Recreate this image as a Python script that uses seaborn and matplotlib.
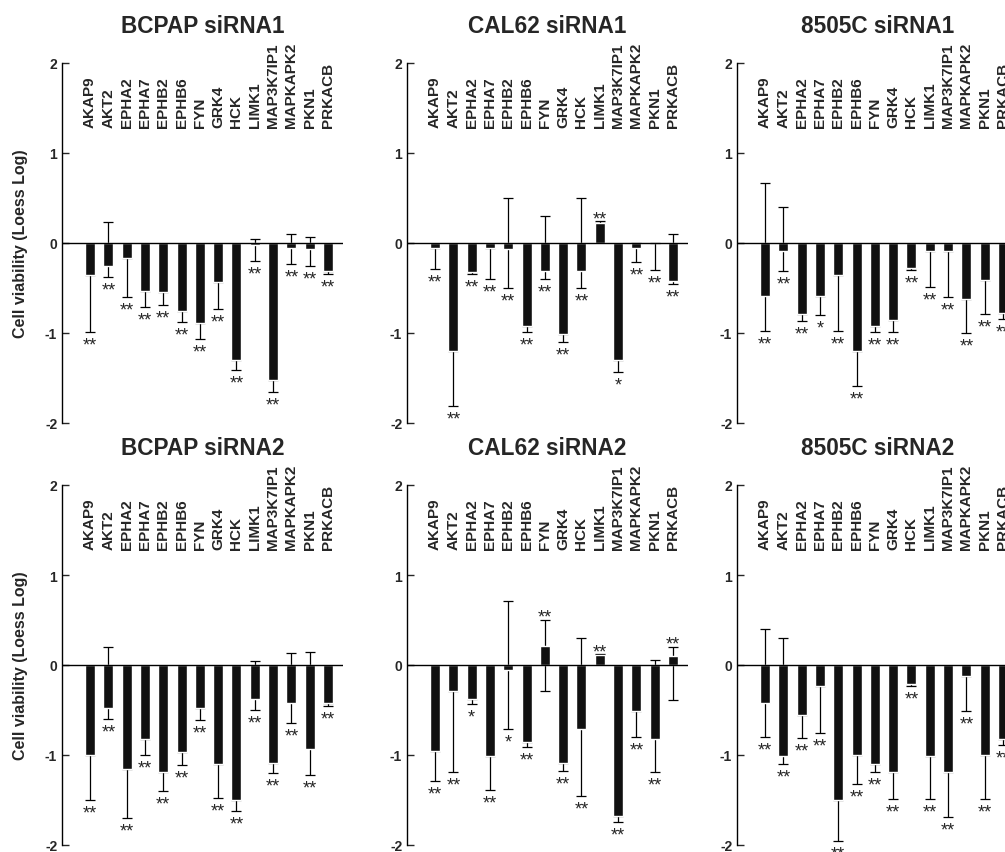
import numpy as np
import matplotlib
matplotlib.use("Agg")
import matplotlib.pyplot as plt
import seaborn as sns

genes = ["AKAP9", "AKT2", "EPHA2", "EPHA7", "EPHB2", "EPHB6", "FYN", "GRK4",
         "HCK", "LIMK1", "MAP3K7IP1", "MAPKAPK2", "PKN1", "PRKACB"]

# bar value, lower / upper whisker end, significance mark
bcpap1_val = [-0.36, -0.25, -0.17, -0.53, -0.54, -0.75, -0.89, -0.43, -1.30, -0.02, -1.52, -0.05, -0.07, -0.31]
bcpap1_lo = [-0.99, -0.38, -0.60, -0.71, -0.69, -0.88, -1.07, -0.73, -1.41, -0.20, -1.65, -0.23, -0.26, -0.34]
bcpap1_hi = [-0.36, 0.23, -0.17, -0.53, -0.54, -0.75, -0.89, -0.43, -1.30, 0.04, -1.52, 0.10, 0.07, -0.31]
bcpap1_sig = ["**"] * 14

cal1_val = [-0.06, -1.20, -0.32, -0.06, -0.07, -0.92, -0.31, -1.01, -0.31, 0.22, -1.30, -0.06, 0.0, -0.42]
cal1_lo = [-0.29, -1.81, -0.34, -0.40, -0.50, -0.99, -0.40, -1.10, -0.50, 0.22, -1.43, -0.21, -0.30, -0.45]
cal1_hi = [-0.06, -1.20, -0.32, -0.06, 0.50, -0.92, 0.30, -1.01, 0.50, 0.24, -1.30, 0.0, 0.0, 0.10]
cal1_sig = ["**", "**", "**", "**", "**", "**", "**", "**", "**", "**", "*", "**", "**", "**"]

c8505_1_val = [-0.59, -0.09, -0.79, -0.59, -0.36, -1.20, -0.92, -0.86, -0.28, -0.09, -0.09, -0.62, -0.41, -0.78]
c8505_1_lo = [-0.98, -0.31, -0.87, -0.80, -0.98, -1.59, -0.99, -0.99, -0.30, -0.49, -0.60, -1.00, -0.79, -0.84]
c8505_1_hi = [0.67, 0.40, -0.79, -0.59, -0.36, -1.20, -0.92, -0.86, -0.28, -0.09, -0.09, -0.62, -0.41, -0.78]
c8505_1_sig = ["**", "**", "**", "*", "**", "**", "**", "**", "**", "**", "**", "**", "**", "**"]

bcpap2_val = [-1.00, -0.48, -1.15, -0.82, -1.19, -0.97, -0.48, -1.10, -1.50, -0.38, -1.09, -0.42, -0.93, -0.42]
bcpap2_lo = [-1.50, -0.60, -1.70, -1.00, -1.40, -1.11, -0.61, -1.48, -1.62, -0.50, -1.20, -0.64, -1.22, -0.46]
bcpap2_hi = [-1.00, 0.20, -1.15, -0.82, -1.19, -0.97, -0.48, -1.10, -1.50, 0.04, -1.09, 0.13, 0.15, -0.42]
bcpap2_sig = ["**"] * 14

cal2_val = [-0.95, -0.29, -0.38, -1.01, -0.05, -0.85, 0.21, -1.09, -0.71, 0.11, -1.68, -0.51, -0.82, 0.10]
cal2_lo = [-1.29, -1.19, -0.43, -1.39, -0.71, -0.91, -0.29, -1.18, -1.45, 0.11, -1.74, -0.80, -1.19, -0.39]
cal2_hi = [-0.95, -0.29, -0.38, -1.01, 0.71, -0.85, 0.50, -1.09, 0.30, 0.12, -1.68, -0.51, 0.06, 0.20]
cal2_sig = ["**", "**", "*", "**", "*", "**", "**", "**", "**", "**", "**", "**", "**", "**"]

c8505_2_val = [-0.42, -1.01, -0.56, -0.23, -1.50, -1.00, -1.10, -1.19, -0.21, -1.01, -1.19, -0.12, -1.00, -0.82]
c8505_2_lo = [-0.80, -1.10, -0.81, -0.76, -1.95, -1.32, -1.19, -1.49, -0.23, -1.49, -1.69, -0.51, -1.49, -0.89]
c8505_2_hi = [0.40, 0.30, -0.56, -0.23, -1.50, -1.00, -1.10, -1.19, -0.21, -1.01, -1.19, -0.12, -1.00, -0.82]
c8505_2_sig = ["**"] * 14

panels = [
    ("BCPAP siRNA1", bcpap1_val, bcpap1_lo, bcpap1_hi, bcpap1_sig),
    ("CAL62 siRNA1", cal1_val, cal1_lo, cal1_hi, cal1_sig),
    ("8505C siRNA1", c8505_1_val, c8505_1_lo, c8505_1_hi, c8505_1_sig),
    ("BCPAP siRNA2", bcpap2_val, bcpap2_lo, bcpap2_hi, bcpap2_sig),
    ("CAL62 siRNA2", cal2_val, cal2_lo, cal2_hi, cal2_sig),
    ("8505C siRNA2", c8505_2_val, c8505_2_lo, c8505_2_hi, c8505_2_sig),
]

sns.set_style("ticks")
plt.rcParams["font.family"] = ["Liberation Sans", "DejaVu Sans"]
plt.rcParams["font.weight"] = "bold"
plt.rcParams["axes.unicode_minus"] = False

W, H = 1005, 853
fig = plt.figure(figsize=(W / 100, H / 100), dpi=100)

lefts = [62, 407, 737]
bottoms = [424, 846]
ax_w, ax_h = 281, 360

x = np.arange(len(genes))
for k, (title, val, lo, hi, sig) in enumerate(panels):
    row, col = divmod(k, 3)
    ax = fig.add_axes([lefts[col] / W, (H - bottoms[row]) / H, ax_w / W, ax_h / H])

    val = np.array(val)
    lo = np.array(lo)
    hi = np.array(hi)

    ax.errorbar(x, val, yerr=[val - lo, hi - val], fmt="none", ecolor="black",
                elinewidth=0.9, capsize=3.6, capthick=0.9, zorder=1)
    sns.barplot(x=genes, y=val, color="#111111", saturation=1, width=0.55,
                errorbar=None, ax=ax, zorder=2)
    ax.axhline(0, color="black", lw=1.0, zorder=3)

    for i in range(len(genes)):
        ax.text(i, 1.29, genes[i], rotation=90, ha="center", va="bottom",
                fontsize=11, fontweight="bold", clip_on=False)
        if val[i] > 0:
            ax.text(i, max(hi[i], val[i]) - 0.02, sig[i], ha="center", va="baseline",
                    fontsize=13, fontweight="normal")
        else:
            ax.text(i, min(lo[i], val[i]) - 0.05, sig[i], ha="center", va="top",
                    fontsize=13, fontweight="normal")

    ax.set_xlim(-1.53, 13.82)
    ax.set_ylim(-2, 2)
    ax.set_xticks([])
    ax.set_xlabel("")
    ax.set_yticks([-2, -1, 0, 1, 2])
    ax.set_yticklabels(["-2", "-1", "0", "1", "2"])
    ax.tick_params(axis="y", direction="in", length=5, width=1, pad=3.5, labelsize=10)
    sns.despine(ax=ax, bottom=True)
    ax.spines["left"].set_linewidth(1.0)
    ax.spines["left"].set_color("black")
    ax.set_title(title, fontsize=16.3, fontweight="bold", pad=22)

    if col == 0:
        ax.set_ylabel("Cell viability (Loess Log)", fontsize=11.5, fontweight="bold")
        ax.yaxis.set_label_coords(-0.121, 0.5)
    else:
        ax.set_ylabel("")

fig.savefig("out.png", dpi=100)
